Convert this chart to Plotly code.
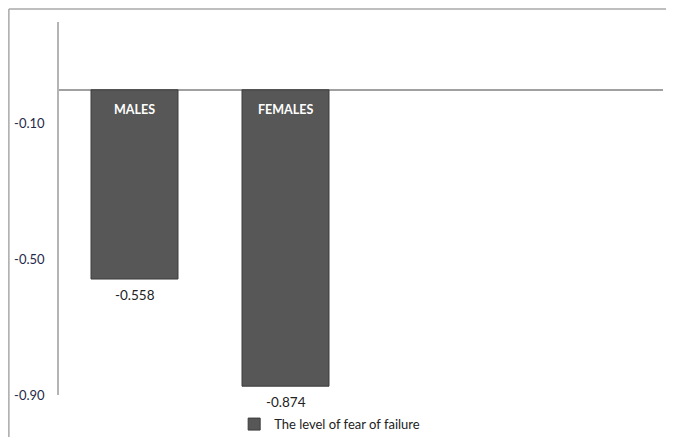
import plotly.graph_objects as go

categories = ["MALES", "FEMALES"]
values = [-0.558, -0.874]
value_labels = ["-0.558", "-0.874"]
series_name = "The level of fear of failure"
tick_vals = [-0.10, -0.50, -0.90]
tick_text = ["-0.10", "-0.50", "-0.90"]

xpos = list(range(len(categories)))
FONT = "Lato, Open Sans, sans-serif"

fig = go.Figure()
fig.add_trace(go.Bar(
    x=xpos, y=values, name=series_name, width=0.576,
    marker=dict(color="#575757", line=dict(color="#3c3c3c", width=1)),
    showlegend=True,
))

for xi, cat, v, lab in zip(xpos, categories, values, value_labels):
    fig.add_annotation(x=xi, y=0, text="<b>" + cat + "</b>", showarrow=False,
                       yanchor="top", yshift=-10,
                       font=dict(family=FONT, size=12.5, color="white"))
    fig.add_annotation(x=xi, y=v, text=lab, showarrow=False,
                       yanchor="top", yshift=-6,
                       font=dict(family=FONT, size=13.5, color="#222222"))

# outer frame lines
fig.add_shape(type="line", xref="paper", yref="paper", x0=-0.083, x1=1.01, y0=1.035, y1=1.035,
              line=dict(color="#a8a8a8", width=1.5))
fig.add_shape(type="line", xref="paper", yref="paper", x0=-0.083, x1=-0.083, y0=1.035, y1=-0.12,
              line=dict(color="#a8a8a8", width=1.5))

fig.update_layout(
    width=658, height=429,
    margin=dict(l=51, r=3, t=14, b=42, autoexpand=False),
    paper_bgcolor="white", plot_bgcolor="white",
    font=dict(family=FONT, size=13, color="#222"),
    xaxis=dict(range=[-0.5, 3.5], showticklabels=False, showgrid=False, zeroline=False,
               showline=False, fixedrange=True, automargin=False),
    yaxis=dict(range=[-0.9, 0.2], tickvals=tick_vals, ticktext=tick_text, showgrid=False,
               zeroline=True, zerolinecolor="#a0a0a0", zerolinewidth=1.5, automargin=False,
               showline=True, linecolor="#b4b4b4", linewidth=1.5, ticks="", ticklabelstandoff=10,
               tickfont=dict(family=FONT, size=13, color="#1f2a4a")),
    legend=dict(orientation="h", x=0.29, xanchor="left", y=0.03, yref="container",
                yanchor="middle",
                font=dict(family=FONT, size=13, color="#222"),
                itemwidth=30),
    showlegend=True,
)

fig.write_html("out.html")
